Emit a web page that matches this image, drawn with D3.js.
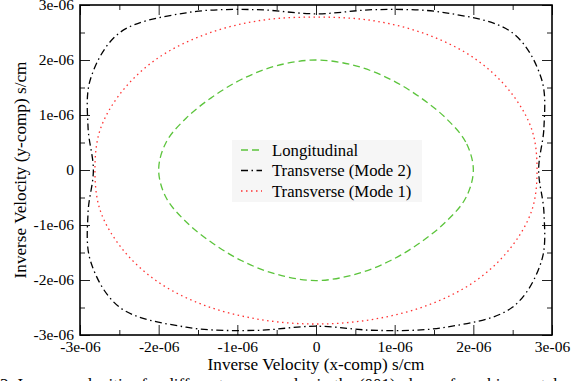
<!DOCTYPE html>
<html><head><meta charset="utf-8">
<script src="https://cdn.jsdelivr.net/npm/d3@7"></script>
<style>
body{margin:0;background:#fff;overflow:hidden}
svg{display:block}
svg text{font-family:"Liberation Serif","Tinos","Times New Roman","Nimbus Roman","DejaVu Serif",serif;fill:#000}
</style>
</head><body>
<svg id="c" width="588" height="381"></svg>
<script>
// Polar angles (degrees) of the sampled points
const angles = [0,15,30,45,60,75,90,105,120,135,150,165,180,195,210,225,240,255,270,285,300,315,330,345];
// Inverse-velocity magnitudes (units of 1e-6 s/cm)
const longitudinal = [2.00,1.97,1.90,1.87,1.90,1.96,2.00,1.96,1.90,1.87,1.90,1.97,2.00,1.97,1.90,1.87,1.90,1.96,2.01,1.96,1.90,1.87,1.90,1.97];
const transverseMode2 = [2.83,3.00,3.31,3.53,3.30,3.02,2.84,3.02,3.30,3.53,3.31,3.00,2.83,3.00,3.31,3.53,3.30,3.02,2.84,3.02,3.30,3.53,3.31,3.00];
const transverseMode1 = [2.81,2.84,2.85,2.86,2.84,2.81,2.78,2.81,2.84,2.86,2.85,2.84,2.81,2.84,2.85,2.86,2.84,2.81,2.80,2.81,2.84,2.86,2.85,2.84];
const seriesNames = ["Longitudinal","Transverse (Mode 2)","Transverse (Mode 1)"];
const majorTicks = [-3e-6,-2e-6,-1e-6,0,1e-6,2e-6,3e-6];
const tickLabels = ["-3e-06","-2e-06","-1e-06","0","1e-06","2e-06","3e-06"];
const minorTicks = [-2.5e-6,-1.5e-6,-0.5e-6,0.5e-6,1.5e-6,2.5e-6];
const xTitle = "Inverse Velocity (x-comp) s/cm";
const yTitle = "Inverse Velocity (y-comp) s/cm";
const caption = "3: Inverse velocities for different wave modes in the (001) plane of a cubic crystal.";

const FONT = "'Liberation Serif','Tinos','Times New Roman','Nimbus Roman','DejaVu Serif',serif";
const svg = d3.select("#c");
const L = 80, R = 552, T = 5, B = 335;
const x = d3.scaleLinear().domain([-3e-6,3e-6]).range([L,R]);
const y = d3.scaleLinear().domain([-3e-6,3e-6]).range([B,T]);
const fmt = d => tickLabels[majorTicks.indexOf(d)];
const TICKFS = 15.5;

function styleAxis(g){
  g.attr("font-family", FONT).attr("font-size", TICKFS);
  g.select(".domain").remove();
  g.selectAll(".tick line").attr("stroke","#222").attr("stroke-width",1);
  g.selectAll("text").attr("font-family", FONT).attr("font-size", TICKFS).attr("fill","#000");
}
// bottom
svg.append("g").attr("transform",`translate(0,${B})`)
  .call(d3.axisBottom(x).tickValues(majorTicks).tickSize(-10).tickPadding(6).tickFormat(fmt)).call(styleAxis);
svg.append("g").attr("transform",`translate(0,${B})`)
  .call(d3.axisBottom(x).tickValues(minorTicks).tickSize(-5).tickFormat("")).call(styleAxis);
// top
svg.append("g").attr("transform",`translate(0,${T})`)
  .call(d3.axisTop(x).tickValues(majorTicks).tickSize(-10).tickFormat("")).call(styleAxis);
svg.append("g").attr("transform",`translate(0,${T})`)
  .call(d3.axisTop(x).tickValues(minorTicks).tickSize(-5).tickFormat("")).call(styleAxis);
// left
svg.append("g").attr("transform",`translate(${L},0)`)
  .call(d3.axisLeft(y).tickValues(majorTicks).tickSize(-10).tickPadding(6).tickFormat(fmt)).call(styleAxis);
svg.append("g").attr("transform",`translate(${L},0)`)
  .call(d3.axisLeft(y).tickValues(minorTicks).tickSize(-5).tickFormat("")).call(styleAxis);
// right
svg.append("g").attr("transform",`translate(${R},0)`)
  .call(d3.axisRight(y).tickValues(majorTicks).tickSize(-10).tickFormat("")).call(styleAxis);
svg.append("g").attr("transform",`translate(${R},0)`)
  .call(d3.axisRight(y).tickValues(minorTicks).tickSize(-5).tickFormat("")).call(styleAxis);

// frame
svg.append("rect").attr("x",L).attr("y",T).attr("width",R-L).attr("height",B-T)
  .attr("fill","none").attr("stroke","#000").attr("stroke-width",1.6);

// curves
const line = d3.line()
  .x(d => x(d.r*1e-6*Math.cos(d.a*Math.PI/180)))
  .y(d => y(d.r*1e-6*Math.sin(d.a*Math.PI/180)))
  .curve(d3.curveCatmullRomClosed.alpha(0.5));
const styles = [
  {data:longitudinal, color:"#5cc43c", dash:"7,4", w:1.3},
  {data:transverseMode2, color:"#000", dash:"7,3.5,1.5,3.5", w:1.3},
  {data:transverseMode1, color:"#ff3333", dash:"1.5,3.5", w:1.3}
];

// legend background (drawn under curves)
const lg = svg.append("g");
lg.append("rect").attr("x",232).attr("y",140).attr("width",190).attr("height",62).attr("fill","#f6f6f6");

styles.forEach(s => {
  svg.append("path")
    .datum(angles.map((a,i)=>({a, r:s.data[i]})))
    .attr("d", line).attr("fill","none")
    .attr("stroke", s.color).attr("stroke-width", s.w).attr("stroke-dasharray", s.dash);
});

seriesNames.forEach((n,i) => {
  const yy = 150 + i*20.5;
  lg.append("line").attr("x1",241).attr("x2",262).attr("y1",yy).attr("y2",yy)
    .attr("stroke",styles[i].color).attr("stroke-width",1.3).attr("stroke-dasharray",styles[i].dash);
  lg.append("text").attr("x",272).attr("y",yy+5.5).attr("font-family",FONT).attr("font-size",16.7).text(n);
});

// titles
svg.append("text").attr("x",(L+R)/2).attr("y",370).attr("text-anchor","middle").attr("font-family",FONT).attr("font-size",17.2).text(xTitle);
svg.append("text").attr("transform",`translate(26,${(T+B)/2}) rotate(-90)`).attr("text-anchor","middle").attr("font-family",FONT).attr("font-size",17.2).text(yTitle);
svg.append("text").attr("x",0).attr("y",390).attr("font-family",FONT).attr("font-size",17).text(caption);
</script>
</body></html>
